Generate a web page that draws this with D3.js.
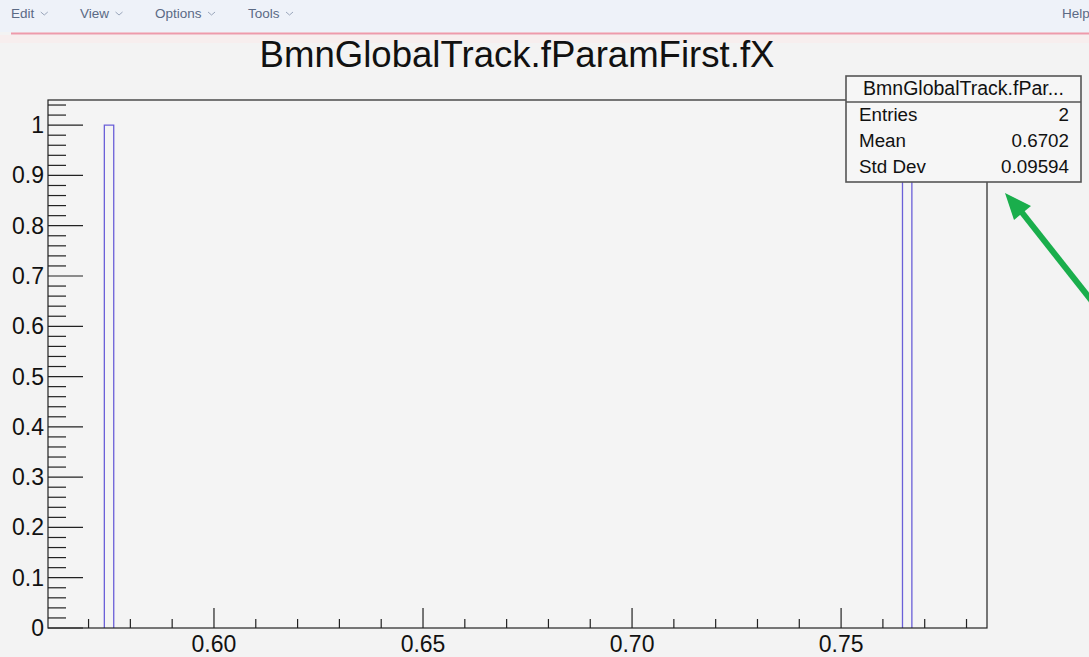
<!DOCTYPE html>
<html><head><meta charset="utf-8">
<script src="https://cdn.jsdelivr.net/npm/d3@7"></script>
<style>
html,body{margin:0;padding:0;background:#f3f3f3;}
svg{display:block;font-family:"Liberation Sans",Arial,sans-serif;}
</style></head>
<body><svg id="c" width="1089" height="657"></svg>
<script>
// ---- data ----
const title = "BmnGlobalTrack.fParamFirst.fX";
const xRange = [0.5603, 0.7849];
const nBins = 100;
const binIndex = [6, 91];          // filled bins
const binCounts = [1, 1];
const yMax = 1.05;
const xMajorTicks = [0.60, 0.65, 0.70, 0.75];
const xTickLabels = ["0.60", "0.65", "0.70", "0.75"];
const yMajorTicks = [0, 0.1, 0.2, 0.3, 0.4, 0.5, 0.6, 0.7, 0.8, 0.9, 1];
const yTickLabels = ["0", "0.1", "0.2", "0.3", "0.4", "0.5", "0.6", "0.7", "0.8", "0.9", "1"];
const statsTitle = "BmnGlobalTrack.fPar...";
const statsNames = ["Entries", "Mean", "Std Dev"];
const statsValues = ["2", "0.6702", "0.09594"];
const menuItems = ["Edit", "View", "Options", "Tools"];

const svg = d3.select("#c");
const W = 1089, H = 657;
const L = 48, R = 987, T = 100, B = 628;

// menu bar
svg.append("rect").attr("x",0).attr("y",0).attr("width",W).attr("height",32).attr("fill","#eef2f9");
svg.append("rect").attr("x",0).attr("y",35).attr("width",W).attr("height",8).attr("fill","#f7eeee");
svg.append("line").attr("x1",11).attr("x2",W).attr("y1",33.5).attr("y2",33.5).attr("stroke","#ee9aab").attr("stroke-width",2);
const menuX = [11, 80, 155, 248];
menuItems.forEach((m,i)=>{
  const t = svg.append("text").attr("x",menuX[i]).attr("y",18).attr("font-size",13.5).attr("fill","#5b6a85").text(m);
  const w = t.node().getComputedTextLength();
  const cx = menuX[i]+w+10;
  svg.append("path").attr("d",`M${cx-3.5},12 L${cx},15 L${cx+3.5},12`).attr("fill","none").attr("stroke","#9aa6bb").attr("stroke-width",1);
});
svg.append("text").attr("x",1062).attr("y",18).attr("font-size",13.5).attr("fill","#5b6a85").text("Help");

// scales
const x = d3.scaleLinear().domain(xRange).range([L, R]);
const y = d3.scaleLinear().domain([0, yMax]).range([B, T]);
const bw = (xRange[1]-xRange[0])/nBins;

// plot area
svg.append("rect").attr("x",L).attr("y",T).attr("width",R-L).attr("height",B-T).attr("fill","#f4f4f4");

// bars
binIndex.forEach((bi,i)=>{
  const x0 = xRange[0]+bi*bw, x1 = x0+bw;
  svg.append("path")
    .attr("d",`M${x(x0)},${y(0)} L${x(x0)},${y(binCounts[i])} L${x(x1)},${y(binCounts[i])} L${x(x1)},${y(0)}`)
    .attr("fill","none").attr("stroke","#6a5fd8").attr("stroke-width",1.3);
});

// frame
svg.append("rect").attr("x",L).attr("y",T).attr("width",R-L).attr("height",B-T).attr("fill","none").attr("stroke","#222").attr("stroke-width",1.2);

// y axis ticks
const yMinor = d3.range(0, 1.0401, 0.02);
yMinor.forEach(v=>{
  const isMajor = Math.abs(Math.round(v*10)-v*10)<1e-6;
  svg.append("line").attr("x1",L).attr("x2",L+(isMajor?35:18)).attr("y1",y(v)).attr("y2",y(v)).attr("stroke","#222").attr("stroke-width",1.2);
});
yMajorTicks.forEach((v,i)=>{
  svg.append("text").attr("x",44).attr("y",y(v)+8).attr("text-anchor","end").attr("font-size",23).attr("fill","#111").text(yTickLabels[i]);
});

// x axis ticks
const xMinor = d3.range(0.57, 0.7801, 0.01);
xMinor.forEach(v=>{
  const isMajor = Math.abs(Math.round(v*20)-v*20)<1e-6;
  svg.append("line").attr("x1",x(v)).attr("x2",x(v)).attr("y1",B).attr("y2",B-(isMajor?20:9)).attr("stroke","#222").attr("stroke-width",1.2);
});
xMajorTicks.forEach((v,i)=>{
  svg.append("text").attr("x",x(v)).attr("y",652).attr("text-anchor","middle").attr("font-size",23).attr("fill","#111").text(xTickLabels[i]);
});

// title
svg.append("text").attr("x",517).attr("y",67).attr("text-anchor","middle").attr("font-size",36.6).attr("fill","#111").text(title);

// stats box
const sx0 = 846, sx1 = 1081, sy0 = 76, sy1 = 182;
svg.append("rect").attr("x",sx0).attr("y",sy0).attr("width",sx1-sx0).attr("height",sy1-sy0).attr("fill","#f6f6f6").attr("stroke","#555").attr("stroke-width",1.6);
svg.append("line").attr("x1",sx0).attr("x2",sx1).attr("y1",102).attr("y2",102).attr("stroke","#555").attr("stroke-width",1.6);
svg.append("text").attr("x",(sx0+sx1)/2).attr("y",95).attr("text-anchor","middle").attr("font-size",19.5).attr("fill","#111").text(statsTitle);
const rowY = [121, 147, 173];
statsNames.forEach((n,i)=>{
  svg.append("text").attr("x",859).attr("y",rowY[i]).attr("font-size",18.8).attr("fill","#111").text(n);
  svg.append("text").attr("x",1069).attr("y",rowY[i]).attr("text-anchor","end").attr("font-size",18.8).attr("fill","#111").text(statsValues[i]);
});

// green arrow annotation
svg.append("line").attr("x1",1095).attr("y1",305).attr("x2",1020).attr("y2",210).attr("stroke","#1aae4c").attr("stroke-width",6);
svg.append("path").attr("d","M1005,193 L1031,206 L1014,220 Z").attr("fill","#1aae4c");
</script></body></html>
